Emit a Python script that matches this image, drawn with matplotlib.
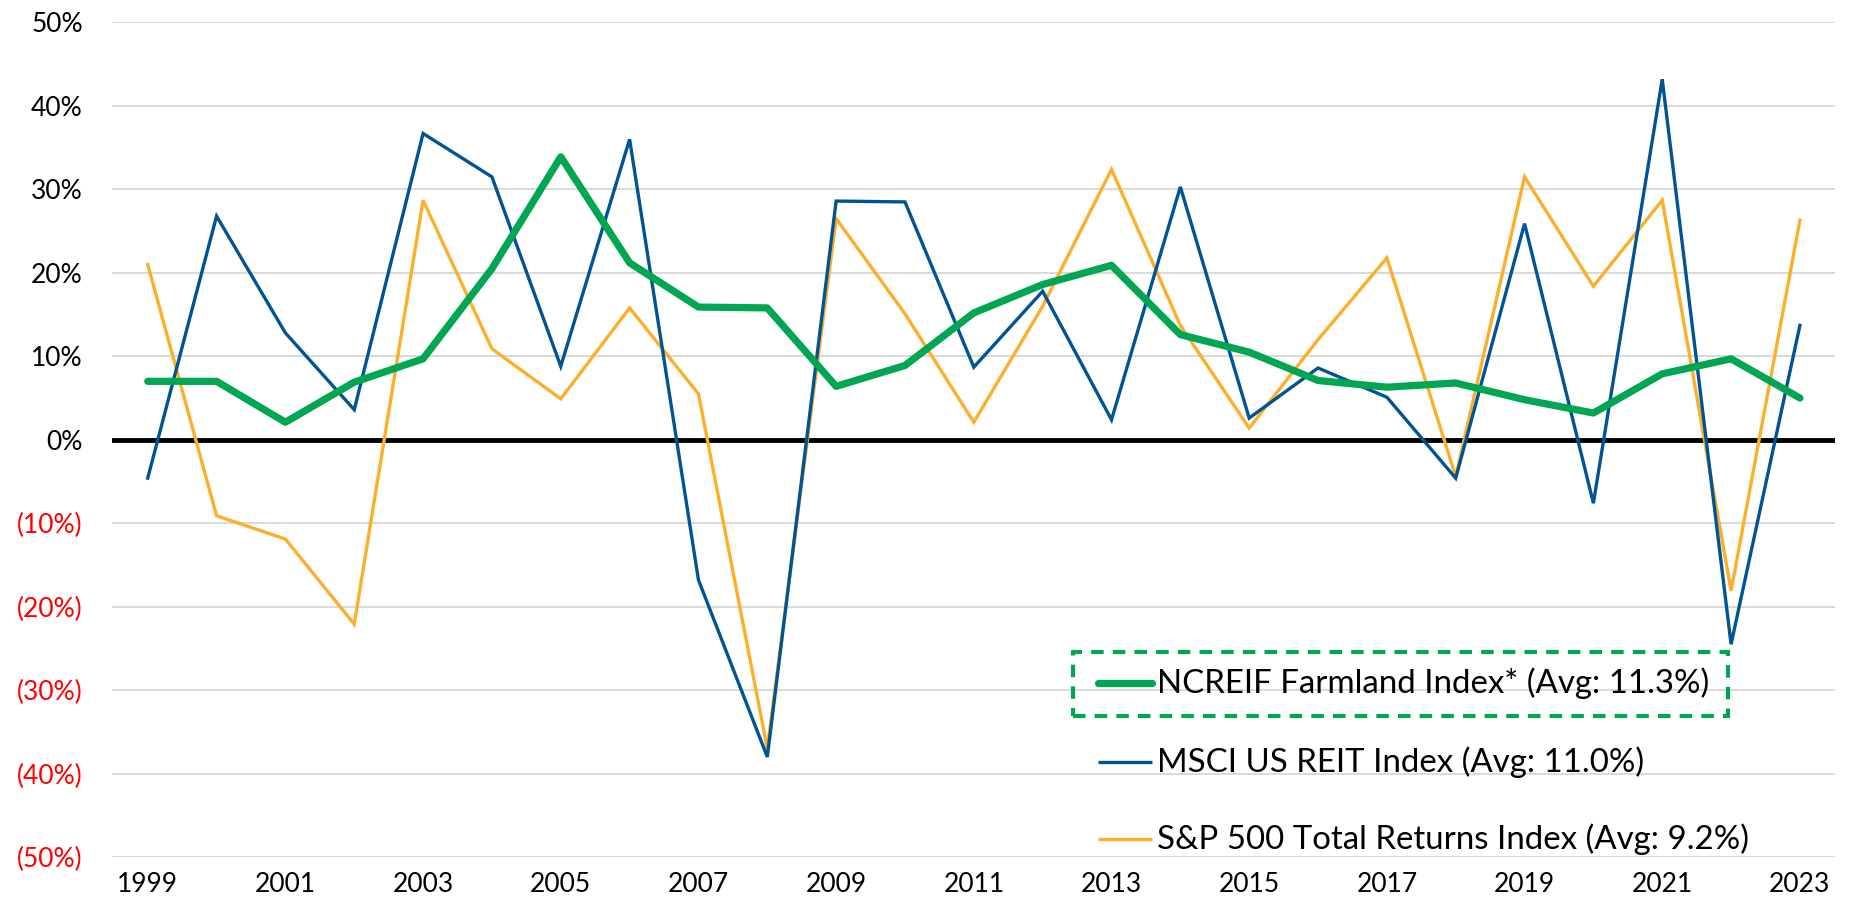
import matplotlib
matplotlib.use("Agg")
import matplotlib.pyplot as plt
from matplotlib.lines import Line2D
from matplotlib.patches import Rectangle

years = list(range(1999, 2024))
ncreif = [7.0, 7.0, 2.1, 6.9, 9.7, 20.5, 33.9, 21.2, 15.9, 15.8, 6.4, 8.9, 15.2,
          18.6, 20.9, 12.6, 10.5, 7.1, 6.3, 6.8, 4.8, 3.2, 7.9, 9.7, 5.0]
msci = [-4.6, 26.8, 12.8, 3.6, 36.7, 31.5, 8.8, 36.0, -16.8, -38.0, 28.6, 28.5, 8.7,
        17.8, 2.4, 30.3, 2.6, 8.6, 5.1, -4.6, 25.9, -7.6, 43.2, -24.5, 13.7]
sp500 = [21.0, -9.1, -11.9, -22.1, 28.7, 10.9, 4.9, 15.8, 5.5, -37.0, 26.5, 15.1, 2.1,
         16.0, 32.4, 13.7, 1.4, 12.0, 21.8, -4.4, 31.5, 18.4, 28.7, -18.1, 26.3]
labels = ["NCREIF Farmland Index* (Avg: 11.3%)",
          "MSCI US REIT Index (Avg: 11.0%)",
          "S&P 500 Total Returns Index (Avg: 9.2%)"]
yticks = [-50, -40, -30, -20, -10, 0, 10, 20, 30, 40, 50]
xticks = list(range(1999, 2024, 2))

GREEN = "#00A651"
BLUE = "#005493"
ORANGE = "#FBAF2A"

plt.rcParams['font.family'] = ['Lato', 'DejaVu Sans']

fig = plt.figure(figsize=(18.53, 9.10), dpi=100)
ax = fig.add_axes([0.0604, 0.0582, 0.9299, 0.9171])

for yv in yticks:
    if yv != 0:
        ax.axhline(yv, color="#d9d9d9", lw=1.4, zorder=0)
ax.axhline(0, color="black", lw=3.5, zorder=1)

ax.plot(years, sp500, color=ORANGE, lw=2.4, zorder=3, solid_joinstyle='miter')
ax.plot(years, msci, color=BLUE, lw=2.4, zorder=4, solid_joinstyle='miter')
ax.plot(years, ncreif, color=GREEN, lw=5.2, zorder=5, solid_capstyle='round')

ax.set_xlim(1998.48, 2023.51)
ax.set_ylim(-50, 50)
ax.set_yticks(yticks)
ylabs = []
for v in yticks:
    ylabs.append(f"{v}%" if v >= 0 else f"({-v}%)")
ax.set_yticklabels(ylabs, fontsize=19)
for t, v in zip(ax.get_yticklabels(), yticks):
    t.set_color("#FF0000" if v < 0 else "black")
ax.set_xticks(xticks)
ax.set_xticklabels([str(x) for x in xticks], fontsize=19)
ax.tick_params(axis='both', length=0)
ax.tick_params(axis='y', pad=21)
ax.tick_params(axis='x', pad=11)
for s in ax.spines.values():
    s.set_visible(False)

# legend (manual)
rows = [0.2085, 0.1138, 0.0216]
colors = [GREEN, BLUE, ORANGE]
widths = [5.2, 2.4, 2.4]
for yr, c, w, lab in zip(rows, colors, widths, labels):
    ax.add_line(Line2D([0.572, 0.6036], [yr, yr], transform=ax.transAxes,
                       color=c, lw=w, solid_capstyle='round' if w > 3 else 'butt',
                       clip_on=False, zorder=6))
    ax.text(0.6066, yr, lab, transform=ax.transAxes, fontsize=23.8,
            va='center', ha='left', zorder=6)
ax.add_patch(Rectangle((0.5577, 0.169), 0.3802, 0.0767, transform=ax.transAxes,
                       fill=False, edgecolor=GREEN, lw=3, linestyle=(0, (3, 2.2)),
                       clip_on=False, zorder=6))

fig.savefig("out.png", dpi=100)
